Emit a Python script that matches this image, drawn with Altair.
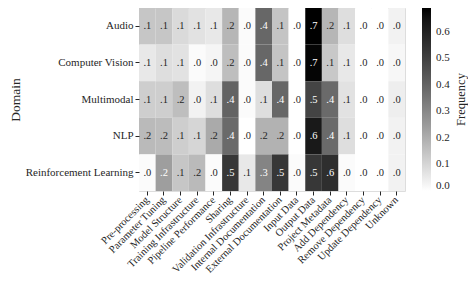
import altair as alt
import pandas as pd

domains = ["Audio", "Computer Vision", "Multimodal", "NLP", "Reinforcement Learning"]
categories = [
    "Pre-processing", "Parameter Tuning", "Model Structure", "Training Infrastructure",
    "Pipeline Performance", "Sharing", "Validation Infrastructure", "Internal Documentation",
    "External Documentation", "Input Data", "Output Data", "Project Metadata",
    "Add Dependency", "Remove Dependency", "Update Dependency", "Unknown",
]

audio = [0.14, 0.14, 0.09, 0.07, 0.055, 0.18, 0.01, 0.39, 0.145, 0.00, 0.69, 0.18, 0.08, 0.00, 0.00, 0.03]
computer_vision = [0.055, 0.08, 0.07, 0.01, 0.025, 0.16, 0.01, 0.39, 0.145, 0.00, 0.68, 0.135, 0.055, 0.00, 0.00, 0.02]
multimodal = [0.12, 0.12, 0.16, 0.03, 0.08, 0.40, 0.01, 0.08, 0.39, 0.00, 0.49, 0.38, 0.07, 0.00, 0.00, 0.04]
nlp = [0.17, 0.165, 0.12, 0.10, 0.21, 0.38, 0.00, 0.19, 0.19, 0.00, 0.63, 0.38, 0.08, 0.00, 0.00, 0.03]
reinforcement_learning = [0.01, 0.24, 0.14, 0.17, 0.01, 0.53, 0.055, 0.31, 0.53, 0.01, 0.53, 0.56, 0.01, 0.00, 0.00, 0.03]

legend_title = ["Frequency"]

rows = [audio, computer_vision, multimodal, nlp, reinforcement_learning]
records = []
for d, vals in zip(domains, rows):
    for c, v in zip(categories, vals):
        records.append({"domain": d, "category": c, "value": v})
df = pd.DataFrame(records)

VMAX = 0.69
FONT = "Liberation Serif"
INK = "#262626"

base = alt.Chart(df).encode(
    x=alt.X(
        "category:N", sort=categories,
        scale=alt.Scale(paddingInner=0, paddingOuter=0),
        axis=alt.Axis(
            title=None, labelAngle=315, labelAlign="right", labelBaseline="middle",
            labelFont=FONT, labelFontSize=10.5, labelColor=INK, labelPadding=3,
            tickSize=4, tickColor=INK, domain=False, labelOverlap=False,
        ),
    ),
    y=alt.Y(
        "domain:N", sort=domains,
        scale=alt.Scale(paddingInner=0, paddingOuter=0),
        axis=alt.Axis(
            title="Domain", titleFont=FONT, titleFontSize=13.5, titleFontWeight="normal",
            titleColor=INK, titleX=-124, titleY=91.5, titleAngle=270,
            titleAlign="center", titleBaseline="middle",
            labelFont=FONT, labelFontSize=11, labelColor=INK, labelPadding=2,
            tickSize=4, tickColor=INK, domain=False,
        ),
    ),
)

rect = base.mark_rect(strokeWidth=0).encode(
    color=alt.Color(
        "value:Q",
        scale=alt.Scale(domain=[0, VMAX], range=["#ffffff", "#000000"], nice=False),
        legend=alt.Legend(
            title=None,
            values=[0.0, 0.1, 0.2, 0.3, 0.4, 0.5, 0.6], format=".1f",
            labelFont=FONT, labelFontSize=11, labelColor=INK, labelOffset=5,
            gradientLength=183, gradientThickness=9, gradientStrokeWidth=0,
            offset=17, direction="vertical",
        ),
    )
)

text = base.mark_text(font=FONT, fontSize=10.5).transform_calculate(
    label="substring(format(datum.value, '.1f'), 1)"
).encode(
    text="label:N",
    color=alt.condition("datum.value > 0.23", alt.value("#ffffff"), alt.value(INK)),
)

title_layer = alt.Chart(pd.DataFrame({"t": legend_title})).mark_text(
    font=FONT, fontSize=12.5, color=INK, angle=270, align="center", baseline="middle"
).encode(text="t:N", x=alt.value(322), y=alt.value(91.5))

chart = (
    alt.layer(rect, text, title_layer)
    .properties(
        width=266, height=183,
        autosize=alt.AutoSizeParams(type="none"),
        padding={"left": 131, "top": 0, "right": 63, "bottom": 92},
    )
    .configure_view(stroke=None)
    .configure(background="white")
)

chart.save("out.html", embed_options={"renderer": "svg", "actions": False})
